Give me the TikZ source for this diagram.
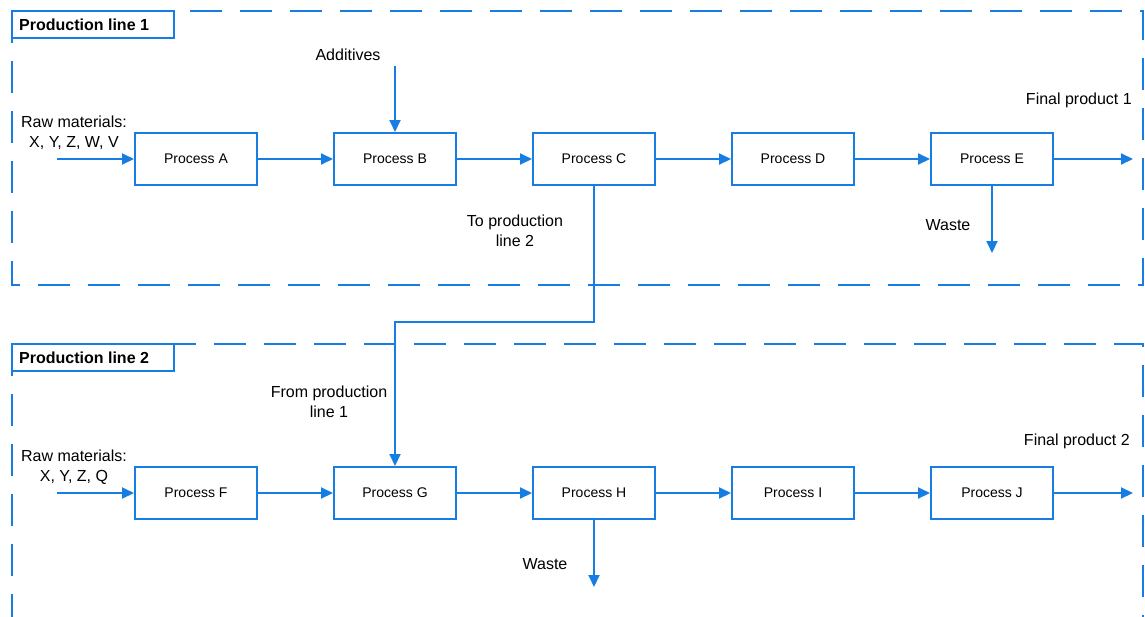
\documentclass[tikz,border=0pt]{standalone}
\usepackage{fontspec}
\setmainfont{Liberation Sans}
\usetikzlibrary{arrows.meta}
\definecolor{flow}{RGB}{22,126,226}
\tikzset{
  proc/.style={draw=flow, line width=2pt, fill=white, minimum width=122pt,
    minimum height=52pt, inner sep=0pt, font=\fontsize{14}{16}\selectfont},
  lbl/.style={align=center, inner sep=0pt, font=\fontsize{16}{20}\selectfont},
  title/.style={anchor=west, inner sep=0pt, font=\fontsize{16}{20}\selectfont\bfseries},
  frame/.style={draw=flow, line width=2pt, dash pattern=on 32pt off 18pt},
  tab/.style={draw=flow, line width=2pt, fill=white},
  flowarrow/.style={draw=flow, line width=2pt, -{Triangle[length=12pt,width=11pt]}},
  pipe/.style={draw=flow, line width=2pt}
}
\begin{document}
\begin{tikzpicture}[x=1pt, y=-1pt]
  \useasboundingbox[fill=white] (0,0) rectangle (1145,616);

  % dashed frames of the two lines
  \draw[frame] (12,11) rectangle (1143,285);
  \draw[frame] (12,344) rectangle (1143,630);
  \draw[tab] (12,11) rectangle (174,38);
  \draw[tab] (12,344) rectangle (174,371);
  \node[title] (t1) at (19,24.5) {Production line 1};
  \node[title] (t2) at (19,357.5) {Production line 2};

  % production line 1
  \node[proc] (A) at (196,159) {Process A};
  \node[proc] (B) at (395,159) {Process B};
  \node[proc] (C) at (594,159) {Process C};
  \node[proc] (D) at (793,159) {Process D};
  \node[proc] (E) at (992,159) {Process E};

  % production line 2
  \node[proc] (F) at (196,493) {Process F};
  \node[proc] (G) at (395,493) {Process G};
  \node[proc] (H) at (594,493) {Process H};
  \node[proc] (I) at (793,493) {Process I};
  \node[proc] (J) at (992,493) {Process J};

  % labels
  \node[lbl] (raw1) at (74,133) {Raw materials:\\X, Y, Z, W, V};
  \node[lbl] (raw2) at (74,467) {Raw materials:\\X, Y, Z, Q};
  \node[lbl] (add) at (348,55) {Additives};
  \node[lbl, anchor=east] (fp1) at (1132,100) {Final product 1};
  \node[lbl, anchor=east] (fp2) at (1130,441) {Final product 2};
  \node[lbl] (w1) at (948,225) {Waste};
  \node[lbl] (w2) at (545,564) {Waste};
  \node[lbl] (to2) at (515,231) {To production\\line 2};
  \node[lbl] (from1) at (329,402) {From production\\line 1};

  % free ends of connectors
  \coordinate (in1) at (57,159);
  \coordinate (in2) at (57,493);
  \coordinate (out1) at (1133,159);
  \coordinate (out2) at (1133,493);
  \coordinate (addsrc) at (395,66);
  \coordinate (waste1) at (992,253);
  \coordinate (waste2) at (594,587);
  \coordinate (jn) at (0,322);

  % connectors
  \draw[flowarrow] (in1) -- (A);
  \draw[flowarrow] (A) -- (B);
  \draw[flowarrow] (B) -- (C);
  \draw[flowarrow] (C) -- (D);
  \draw[flowarrow] (D) -- (E);
  \draw[flowarrow] (E) -- (out1);
  \draw[flowarrow] (addsrc) -- (B.north);
  \draw[flowarrow] (E.south) -- (waste1);

  \draw[flowarrow] (in2) -- (F);
  \draw[flowarrow] (F) -- (G);
  \draw[flowarrow] (G) -- (H);
  \draw[flowarrow] (H) -- (I);
  \draw[flowarrow] (I) -- (J);
  \draw[flowarrow] (J) -- (out2);
  \draw[flowarrow] (H.south) -- (waste2);

  \draw[flowarrow] (C.south) -- (C.south |- jn) -| (G.north);
\end{tikzpicture}
\end{document}
